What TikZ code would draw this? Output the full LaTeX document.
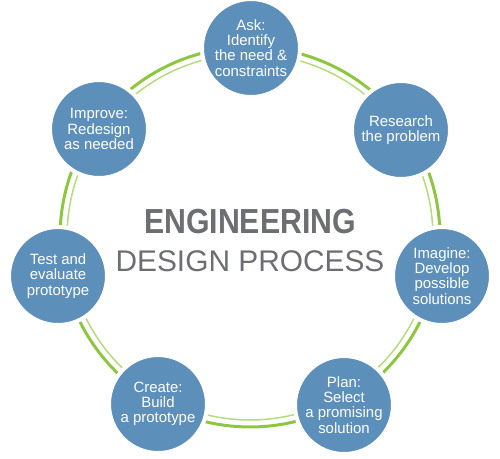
\documentclass[tikz,border=0pt]{standalone}
\usepackage{fontspec}
\setmainfont{Liberation Sans}
\newfontfamily\headfont[FakeStretch=0.87]{Liberation Sans}
\usetikzlibrary{calc}
\definecolor{stepblue}{RGB}{93,143,187}
\definecolor{ringgreen}{RGB}{141,198,63}
\definecolor{ringlight}{RGB}{180,220,125}
\definecolor{titlegray}{RGB}{109,110,113}
\tikzset{
    stage/.style={circle, fill=stepblue, draw=white, line width=0.08cm,
        minimum size=1.96cm, inner sep=0pt, align=center, text=white,
        font=\fontsize{8.5}{8.7}\selectfont},
    ringouter/.style={ringgreen, line width=0.06cm},
    ringinner/.style={ringlight, line width=0.03cm}
}

\begin{document}
\begin{tikzpicture}[x=0.02cm,y=-0.02cm]
        \useasboundingbox (0,0) rectangle (500,458);
        \coordinate (hub) at (250,237);
        \draw[ringouter] (hub) circle (3.8cm);
        \draw[ringinner] (hub) circle (3.66cm);
        \node[stage] (ask) at (251,48) {Ask:\\Identify\\the need \&\\constraints};
        \node[stage] (research) at (401,130) {Research\\the problem};
        \node[stage] (imagine) at (442,276) {Imagine:\\Develop\\possible\\solutions};
        \node[stage] (plan) at (344,405) {Plan:\\Select\\a promising\\solution};
        \node[stage] (create) at (158,404) {Create:\\Build\\a prototype};
        \node[stage] (test) at (58,276) {Test and\\evaluate\\prototype};
        \node[stage] (improve) at (99,129) {Improve:\\Redesign\\as needed};
        \node[anchor=base, text=titlegray, font=\headfont\bfseries\fontsize{19.8}{20}\selectfont] (eng) at (250,233) {ENGINEERING};
        \node[anchor=base, text=titlegray, font=\fontsize{17}{18}\selectfont] (dp) at (250,271) {DESIGN PROCESS};
    \end{tikzpicture}
\end{document}
